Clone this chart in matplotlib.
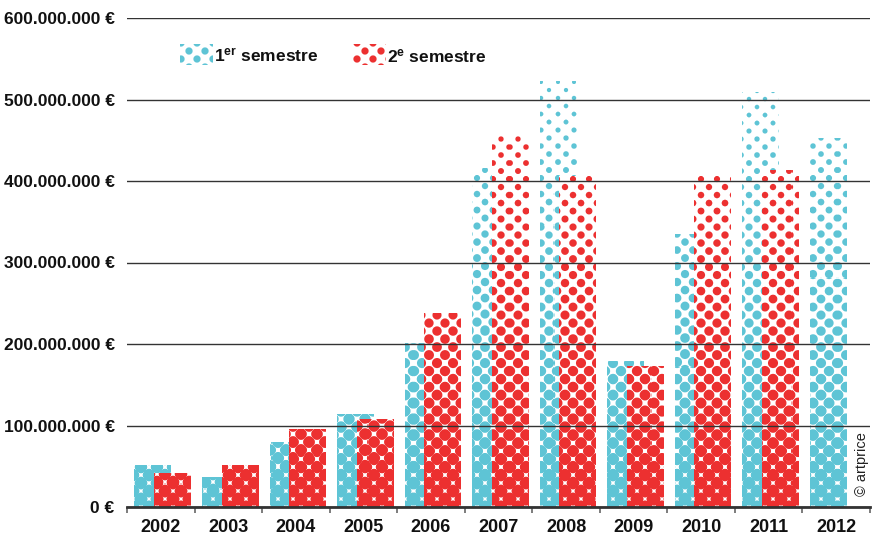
import numpy as np
import matplotlib
matplotlib.use("Agg")
from matplotlib import pyplot as plt
from matplotlib.colors import to_rgb

years = ["2002", "2003", "2004", "2005", "2006", "2007",
         "2008", "2009", "2010", "2011", "2012"]
# auction turnover in millions of euros
first_half = [51, 37, 80, 114, 201, 416, 523, 179, 335, 509, 453]
second_half = [42, 51, 96, 108, 238, 456, 406, 173, 407, 413]
ytick_values = [0, 100, 200, 300, 400, 500, 600]

BLUE = "#5EC4D5"
RED = "#EC3131"

FIG_W, FIG_H = 874, 535
AX_L, AX_R, AX_T, AX_B = 127, 870, 18, 507

plt.rcParams["font.family"] = ["Liberation Sans", "DejaVu Sans"]
plt.rcParams["mathtext.fontset"] = "custom"
plt.rcParams["mathtext.rm"] = "Liberation Sans:bold"
plt.rcParams["mathtext.it"] = "Liberation Sans:bold"
plt.rcParams["mathtext.bf"] = "Liberation Sans:bold"


def bar_radius(y_px):
    # halftone dots grow towards the bottom of the chart
    value = (AX_B - y_px) / ((AX_B - AX_T) / 600)
    return np.clip(6.6 - 0.0088 * value, 0.8, None)


def halftone(x0, y0, w, h, color, radius):
    xs = x0 + np.arange(w) + 0.5
    ys = y0 + np.arange(h) + 0.5
    X, Y = np.meshgrid(xs, ys)
    u = (X - 13 + Y - 3) / 16
    v = (X - 13 - (Y - 3)) / 16
    du = u - np.round(u)
    dv = v - np.round(v)
    d = 11.3137 * np.sqrt(du ** 2 + dv ** 2)
    r = radius(Y) if callable(radius) else radius
    cov = np.clip(r - d + 0.5, 0, 1)[..., None]
    rgb = np.array(to_rgb(color))
    return 1 - cov * (1 - rgb)


fig = plt.figure(figsize=(FIG_W / 100, FIG_H / 100), dpi=100)
ax = fig.add_axes([AX_L / FIG_W, (FIG_H - AX_B) / FIG_H,
                   (AX_R - AX_L) / FIG_W, (AX_B - AX_T) / FIG_H])

extent = (-0.5, 10.5, 0, 600e6)
img_blue = halftone(AX_L, AX_T, AX_R - AX_L, AX_B - AX_T, BLUE, bar_radius)
img_red = halftone(AX_L, AX_T, AX_R - AX_L, AX_B - AX_T, RED, bar_radius)

x1 = np.arange(len(first_half))
x2 = np.arange(len(second_half))
bars1 = ax.bar(x1 - 0.12, np.array(first_half) * 1e6, width=0.54,
               color="none", edgecolor="none")
bars2 = ax.bar(x2 + 0.17, np.array(second_half) * 1e6, width=0.54,
               color="none", edgecolor="none")

for patch in bars1.patches:
    im = ax.imshow(img_blue, extent=extent, aspect="auto",
                   interpolation="nearest", zorder=1)
    im.set_clip_path(patch)
for patch in bars2.patches:
    im = ax.imshow(img_red, extent=extent, aspect="auto",
                   interpolation="nearest", zorder=1.5)
    im.set_clip_path(patch)

ax.set_xlim(-0.5, 10.5)
ax.set_ylim(0, 600e6)

ax.set_xticks(range(len(years)), years)
ax.set_xticks(np.arange(-0.5, 11, 1), minor=True)
ax.tick_params(axis="x", which="major", length=0, pad=9,
               labelsize=13, colors="#111")
ax.tick_params(axis="x", which="minor", length=4, width=1.2, color="#666")
for lab in ax.get_xticklabels():
    lab.set_fontweight("bold")

ylabels = [f"{v * 1000000:,}".replace(",", ".") + " €" for v in ytick_values]
ax.set_yticks([v * 1e6 for v in ytick_values], ylabels)
ax.tick_params(axis="y", length=0, pad=9, labelsize=12.5, colors="#111")
for lab in ax.get_yticklabels():
    lab.set_fontweight("bold")

ax.grid(axis="y", color="#333", linewidth=1)
ax.set_axisbelow(False)
for side in ["left", "right", "top"]:
    ax.spines[side].set_visible(False)
ax.spines["bottom"].set_color("#333")
ax.spines["bottom"].set_linewidth(2)
ax.spines["bottom"].set_zorder(3)

ax.text(0.989, 0.088, "© artprice", rotation=90, transform=ax.transAxes,
        ha="center", va="center", fontsize=10.5, color="#222")

# legend drawn by hand: halftone swatches + labels
legend_items = [(180, BLUE, r"1$^{\mathrm{er}}$ semestre"),
                (353, RED, r"2$^{\mathrm{e}}$ semestre")]
for x0, color, label in legend_items:
    sw = fig.add_axes([x0 / FIG_W, (FIG_H - 65) / FIG_H, 33 / FIG_W, 21 / FIG_H])
    sw.imshow(halftone(x0, 44, 33, 21, color, 3.6), aspect="auto",
              interpolation="nearest")
    sw.axis("off")
    fig.text((x0 + 34) / FIG_W, (FIG_H - 62) / FIG_H, label, fontsize=12.5,
             fontweight="bold", va="baseline", color="#111")

fig.savefig("out.png", dpi=100)
